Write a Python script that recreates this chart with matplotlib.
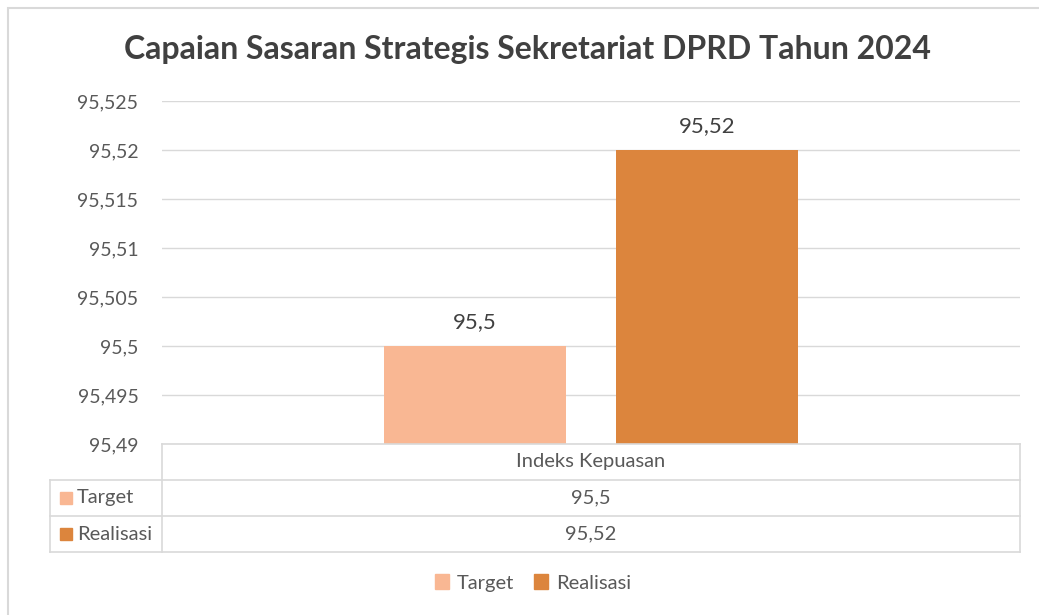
import matplotlib.pyplot as plt
from matplotlib.patches import Rectangle
from matplotlib.lines import Line2D

plt.rcParams['font.family'] = ['Lato', 'DejaVu Sans']

title = "Capaian Sasaran Strategis Sekretariat DPRD Tahun 2024"
category = "Indeks Kepuasan"
series = ["Target", "Realisasi"]
values = [95.5, 95.52]
colors = ["#F9B793", "#DC853D"]
y_ticks = [95.49, 95.495, 95.5, 95.505, 95.51, 95.515, 95.52, 95.525]

W, H = 1039, 615
grid_col = "#D9D9D9"
text_col = "#595959"
small = 14.5


def fmt(v):
    s = f"{v:.3f}".rstrip("0").rstrip(".")
    return s.replace(".", ",")


fig = plt.figure(figsize=(W / 100, H / 100), dpi=100)

# plot area in pixels
left, right, top, bottom = 162, 1020, 101, 444
ax = fig.add_axes([left / W, 1 - bottom / H, (right - left) / W, (bottom - top) / H])
ax.set_xlim(-0.5, 0.5)
ax.set_ylim(y_ticks[0], y_ticks[-1])

bar_w = 0.212
offsets = [-0.135, 0.135]
for name, v, c, off in zip(series, values, colors, offsets):
    ax.bar(off, v - y_ticks[0], bottom=y_ticks[0], width=bar_w, color=c, zorder=3)
    ax.text(off, v + 0.0014, fmt(v), ha="center", va="bottom", fontsize=16, color="#404040")

ax.set_yticks(y_ticks)
ax.set_yticklabels([fmt(t) for t in y_ticks], fontsize=14, color=text_col)
ax.tick_params(axis="y", length=0, pad=17)
ax.set_xticks([])
ax.grid(axis="y", color=grid_col, linewidth=1, zorder=0)
for s in ax.spines.values():
    s.set_visible(False)

fig.suptitle(title, x=527 / W, y=1 - 50 / H, va="center", fontsize=23,
             fontweight="bold", color="#404040")


# data table below the plot area
def px(x, y):
    return x / W, 1 - y / H


def hline(y, x0, x1):
    fig.add_artist(Line2D([x0 / W, x1 / W], [1 - y / H, 1 - y / H], color=grid_col, lw=1.2))


def vline(x, y0, y1):
    fig.add_artist(Line2D([x / W, x / W], [1 - y0 / H, 1 - y1 / H], color=grid_col, lw=1.2))


row_h = 36
label_left = 50
rows_top = bottom + row_h
hline(bottom, left, right)
for i in range(len(series) + 1):
    hline(rows_top + i * row_h, label_left, right)
vline(left, bottom, rows_top + len(series) * row_h)
vline(right, bottom, rows_top + len(series) * row_h)
vline(label_left, rows_top, rows_top + len(series) * row_h)

cx = (left + right) / 2
fig.text(*px(cx, bottom + row_h / 2), category, ha="center", va="center",
         fontsize=small, color=text_col)
for i, (name, v, c) in enumerate(zip(series, values, colors)):
    yc = rows_top + i * row_h + row_h / 2
    fig.add_artist(Rectangle(px(60, yc + 6), 12 / W, 12 / H, color=c))
    fig.text(*px(77, yc), name, ha="left", va="center", fontsize=small, color=text_col)
    fig.text(*px(cx, yc), fmt(v), ha="center", va="center", fontsize=small, color=text_col)

# legend at the bottom
handles = [Rectangle((0, 0), 1, 1, color=c) for c in colors]
fig.legend(handles, series, loc="center", bbox_to_anchor=(533 / W, 1 - 583 / H),
           ncol=2, frameon=False, fontsize=small, handlelength=0.7, handleheight=0.7,
           handletextpad=0.4, columnspacing=1.0, labelcolor=text_col)

# chart border
fig.add_artist(Rectangle((8 / W, -0.1), 1.1, 1 - 8 / H + 0.1, fill=False,
                         edgecolor=grid_col, lw=1.5))

fig.savefig("out.png", dpi=100)
